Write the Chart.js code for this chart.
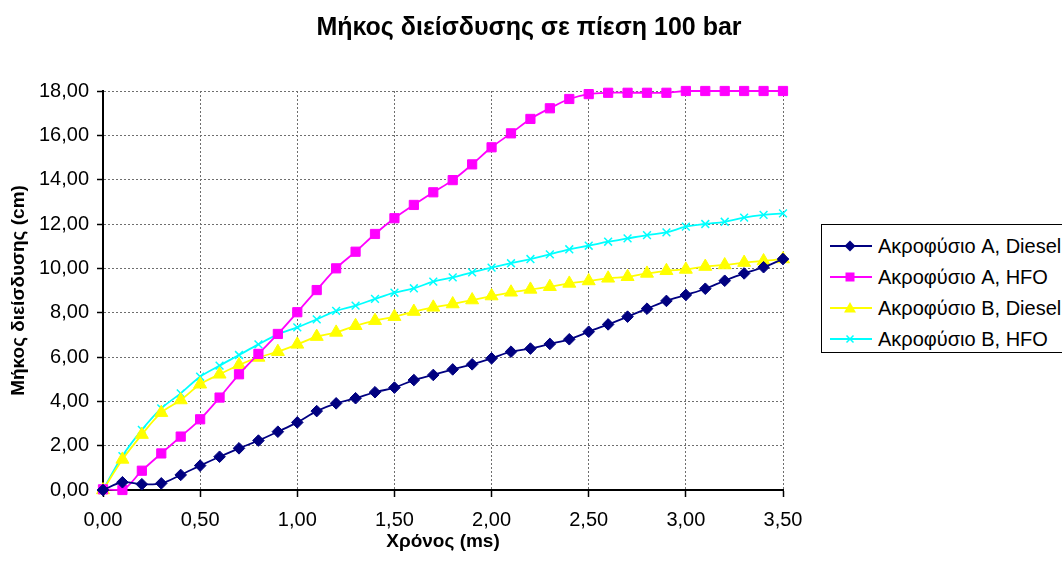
<!DOCTYPE html>
<html>
<head>
<meta charset="utf-8">
<script src="https://cdn.jsdelivr.net/npm/chart.js@4/dist/chart.umd.min.js"></script>
<style>
  html, body { margin: 0; padding: 0; background: #fff; overflow: hidden; }
  #wrap { position: relative; width: 1062px; height: 567px; }
  #title {
    position: absolute; left: 0; top: 14px; width: 1058px; text-align: center;
    font-family: 'Liberation Sans', Arial, sans-serif; font-size: 25px; font-weight: bold;
    line-height: 25px; color: #000;
  }
  #legend {
    position: absolute; left: 821px; top: 224px; width: 260px; height: 129px;
    border: 1px solid #000; box-sizing: border-box; background: #fff;
    font-family: 'Liberation Sans', Arial, sans-serif; font-size: 20px; color: #000;
  }
  .row { position: absolute; left: 8px; height: 24px; display: flex; align-items: center; white-space: nowrap; }
  .row svg { margin-right: 6px; }
</style>
</head>
<body>
<div id="wrap">
  <canvas id="chart" width="1062" height="567"></canvas>
  <div id="title">Μήκος διείσδυσης σε πίεση 100 bar</div>
  <div id="legend"></div>
</div>
<script>
// Time axis (ms)
const times = [0.0, 0.1, 0.2, 0.3, 0.4, 0.5, 0.6, 0.7, 0.8, 0.9, 1.0, 1.1, 1.2, 1.3, 1.4, 1.5, 1.6, 1.7,
               1.8, 1.9, 2.0, 2.1, 2.2, 2.3, 2.4, 2.5, 2.6, 2.7, 2.8, 2.9, 3.0, 3.1, 3.2, 3.3, 3.4, 3.5];

// Penetration length (cm) per nozzle / fuel
const nozzleADiesel = [0.00, 0.35, 0.26, 0.30, 0.68, 1.10, 1.50, 1.88, 2.23, 2.63, 3.05, 3.56, 3.91, 4.14, 4.41, 4.62, 4.96, 5.19,
                       5.44, 5.67, 5.94, 6.24, 6.38, 6.59, 6.80, 7.14, 7.47, 7.82, 8.18, 8.53, 8.80, 9.08, 9.44, 9.77, 10.05, 10.42];
const nozzleAHFO = [0.03, 0.00, 0.87, 1.65, 2.41, 3.19, 4.17, 5.22, 6.14, 7.04, 8.02, 9.02, 10.00, 10.75, 11.55, 12.26, 12.86, 13.43,
                    13.98, 14.69, 15.46, 16.09, 16.74, 17.22, 17.64, 17.86, 17.92, 17.92, 17.92, 17.92, 18.00, 18.00, 18.00, 18.00, 18.00, 18.00];
const nozzleBDiesel = [0.00, 1.38, 2.50, 3.49, 4.06, 4.77, 5.22, 5.64, 5.98, 6.24, 6.57, 6.92, 7.11, 7.41, 7.64, 7.82, 8.05, 8.24,
                       8.39, 8.57, 8.75, 8.92, 9.05, 9.17, 9.32, 9.43, 9.55, 9.62, 9.77, 9.89, 9.95, 10.08, 10.15, 10.26, 10.33, 10.42];
const nozzleBHFO = [0.00, 1.53, 2.71, 3.68, 4.36, 5.11, 5.61, 6.09, 6.57, 7.02, 7.34, 7.70, 8.08, 8.32, 8.62, 8.90, 9.10, 9.40,
                    9.59, 9.82, 10.03, 10.23, 10.42, 10.63, 10.86, 11.02, 11.20, 11.35, 11.50, 11.62, 11.88, 12.00, 12.10, 12.29, 12.41, 12.48];

const seriesNames = ['Ακροφύσιο A, Diesel', 'Ακροφύσιο A, HFO', 'Ακροφύσιο B, Diesel', 'Ακροφύσιο B, HFO'];
const seriesValues = [nozzleADiesel, nozzleAHFO, nozzleBDiesel, nozzleBHFO];
const seriesColors = ['#000080', '#ff00ff', '#ffff00', '#00ffff'];
const seriesMarkers = ['rectRot', 'rect', 'triangle', 'crossRot'];
const markerSizes = [5.8, 6.5, 7.5, 5.5];

const xTicks = [0, 0.5, 1.0, 1.5, 2.0, 2.5, 3.0, 3.5];
const yTicks = [0, 2, 4, 6, 8, 10, 12, 14, 16, 18];

const font = "'Liberation Sans', Arial, sans-serif";
const comma = v => v.toFixed(2).replace('.', ',');

let datasets = [];
for (let s = 0; s < seriesNames.length; s++) {
    datasets.push({
        label: seriesNames[s],
        data: times.map((t, i) => ({ x: t, y: seriesValues[s][i] })),
        borderColor: seriesColors[s],
        backgroundColor: seriesColors[s],
        pointBackgroundColor: seriesColors[s],
        pointBorderColor: seriesColors[s],
        pointStyle: seriesMarkers[s],
        pointRadius: markerSizes[s],
        pointBorderWidth: seriesMarkers[s] == 'crossRot' ? 1.5 : 1,
        borderWidth: 1.8,
        tension: 0.35,
        clip: false
    });
}

new Chart(document.getElementById('chart').getContext('2d'), {
    type: 'line',
    data: { datasets: datasets },
    options: {
        responsive: false,
        animation: false,
        layout: { padding: { left: 0, right: 279, top: 91, bottom: 0 } },
        plugins: {
            legend: { display: false },
            tooltip: { enabled: false },
            title: { display: false }
        },
        scales: {
            x: {
                type: 'linear',
                min: 0, max: 3.5,
                afterFit: scale => { scale.height = 77; },
                afterBuildTicks: scale => { scale.ticks = xTicks.map(v => ({ value: v })); },
                ticks: {
                    color: '#000', padding: 11, maxRotation: 0,
                    font: { family: font, size: 20 },
                    callback: v => comma(v)
                },
                grid: {
                    color: '#6e6e6e', lineWidth: 1,
                    tickLength: 7, tickColor: '#000', tickWidth: 1.5, tickBorderDash: []
                },
                border: { display: true, color: '#000', width: 2, dash: [2, 2] },
                title: {
                    display: true, text: 'Χρόνος (ms)', color: '#000',
                    font: { family: font, size: 19, weight: 'bold' },
                    padding: { top: 0, bottom: 14 }
                }
            },
            y: {
                min: 0, max: 18,
                afterFit: scale => { scale.width = 103; },
                afterBuildTicks: scale => { scale.ticks = yTicks.map(v => ({ value: v })); },
                ticks: {
                    color: '#000', padding: 8,
                    font: { family: font, size: 20 },
                    callback: v => comma(v)
                },
                grid: {
                    color: '#6e6e6e', lineWidth: 1,
                    tickLength: 6, tickColor: '#000', tickWidth: 1.5, tickBorderDash: []
                },
                border: { display: true, color: '#000', width: 2, dash: [2, 2] },
                title: {
                    display: true, text: 'Μήκος διείσδυσης (cm)', color: '#000',
                    font: { family: font, size: 19, weight: 'bold' },
                    padding: { top: 7, bottom: 0 }
                }
            }
        }
    }
});

// HTML legend with line + marker swatches
const svgMarker = (kind, c) => {
    if (kind == 'rectRot') return `<polygon points="20,0.5 25.5,6 20,11.5 14.5,6" fill="${c}"/>`;
    if (kind == 'rect') return `<rect x="15.5" y="1.5" width="9" height="9" fill="${c}"/>`;
    if (kind == 'triangle') return `<polygon points="20,0 26,10.5 14,10.5" fill="${c}"/>`;
    return `<path d="M16.5,2.5 L23.5,9.5 M23.5,2.5 L16.5,9.5" stroke="${c}" stroke-width="1.5"/>`;
};
let leg = document.getElementById('legend');
for (let s = 0; s < seriesNames.length; s++) {
    let row = document.createElement('div');
    row.className = 'row';
    row.style.top = (9 + s * 31) + 'px';
    row.innerHTML = `<svg width="42" height="12" viewBox="0 0 42 12"><line x1="0" y1="6" x2="42" y2="6" stroke="${seriesColors[s]}" stroke-width="1.8"/>` +
        svgMarker(seriesMarkers[s], seriesColors[s]) + `</svg><span>${seriesNames[s]}</span>`;
    leg.appendChild(row);
}
</script>
</body>
</html>
